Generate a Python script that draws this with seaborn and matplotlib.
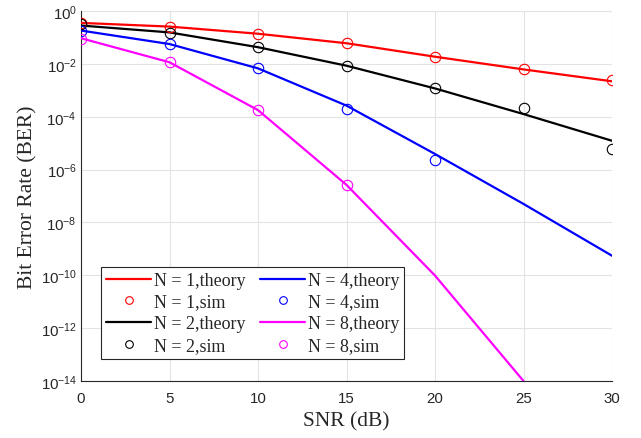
import numpy as np
import pandas as pd
import matplotlib
matplotlib.use("Agg")
import matplotlib.pyplot as plt
from matplotlib.ticker import NullLocator, LogFormatterSciNotation
from matplotlib.lines import Line2D
import seaborn as sns

sns.set_style("white")
plt.rcParams["font.family"] = ["Liberation Sans", "DejaVu Sans"]
plt.rcParams["mathtext.fontset"] = "custom"
plt.rcParams["mathtext.rm"] = "Liberation Sans"
plt.rcParams["mathtext.it"] = "Liberation Sans:italic"
plt.rcParams["mathtext.bf"] = "Liberation Sans:bold"

snr = [0, 5, 10, 15, 20, 25, 30]
orders = [1, 2, 4, 8]
colors = {1: "#ff0000", 2: "#000000", 4: "#0000ff", 8: "#ff00ff"}

# log10 BER values
theory_log = {
    1: [-0.45, -0.59, -0.86, -1.22, -1.73, -2.21, -2.66],
    2: [-0.55, -0.81, -1.37, -2.07, -2.93, -3.90, -4.91],
    4: [-0.74, -1.25, -2.17, -3.58, -5.41, -7.30, -9.26],
    8: [-1.03, -1.94, -3.75, -6.58, -10.01, -14.0, np.nan],
}
sim_log = {
    1: [-0.45, -0.59, -0.86, -1.22, -1.73, -2.21, -2.61],
    2: [-0.49, -0.85, -1.37, -2.07, -2.93, -3.66, -5.21],
    4: [-0.74, -1.25, -2.17, -3.71, -5.64, np.nan, np.nan],
    8: [-1.06, -1.94, -3.75, -6.58, np.nan, np.nan, np.nan],
}

fig = plt.figure(figsize=(6.41, 4.39), dpi=100)
ax = fig.add_axes([81 / 641, 1 - 382 / 439, 531 / 641, 370 / 439])
ax.set_yscale("log")

handles = []
labels = []
for n in orders:
    dft = pd.DataFrame({"snr": snr, "ber": np.power(10.0, theory_log[n])}).dropna()
    dfs = pd.DataFrame({"snr": snr, "ber": np.power(10.0, sim_log[n])}).dropna()
    sns.lineplot(data=dft, x="snr", y="ber", ax=ax, color=colors[n], lw=1.6,
                 estimator=None, sort=False, legend=False, zorder=3)
    sns.lineplot(data=dfs, x="snr", y="ber", ax=ax, color=colors[n], ls="",
                 marker="o", ms=7.5, mfc="none", mec=colors[n], mew=0.8,
                 estimator=None, sort=False, legend=False, zorder=4)
    handles.append(Line2D([], [], color=colors[n], lw=1.6))
    labels.append(f"N = {n},theory")
    handles.append(Line2D([], [], color=colors[n], ls="", marker="o", ms=5.5,
                          mfc="none", mec=colors[n], mew=0.8))
    labels.append(f"N = {n},sim")

ax.set_xlim(0, 30)
ax.set_ylim(1e-14, 1)
ax.set_xticks(snr)
ax.set_yticks([10.0 ** k for k in range(-14, 1, 2)])
ax.yaxis.set_minor_locator(NullLocator())
ax.yaxis.set_major_formatter(LogFormatterSciNotation())

ax.grid(True, which="major", color="#e3e3e3", lw=0.8)
ax.set_axisbelow(True)
for s in ["top", "right"]:
    ax.spines[s].set_visible(False)
for s in ["left", "bottom"]:
    ax.spines[s].set_color("#262626")
    ax.spines[s].set_linewidth(0.8)
ax.tick_params(axis="both", direction="in", length=4, width=0.8,
               colors="#262626", labelsize=10.8, labelcolor="#262626")
ax.tick_params(axis="x", pad=7)
ax.tick_params(axis="y", pad=3)

serif = ["Liberation Serif", "DejaVu Serif"]
ax.set_xlabel("SNR (dB)", family=serif, fontsize=15.5, color="#262626", labelpad=5)
ax.set_ylabel("Bit Error Rate (BER)", family=serif, fontsize=15.5, color="#262626", labelpad=2)

leg = ax.legend(handles, labels, ncol=2, loc="lower left",
                bbox_to_anchor=(20 / 531, 22 / 370), borderaxespad=0,
                prop={"family": serif, "size": 13}, frameon=True, fancybox=False,
                edgecolor="#262626", framealpha=1, handlelength=2.5,
                handletextpad=0.15, columnspacing=0.8, labelspacing=0.26,
                borderpad=0.28)
leg.get_frame().set_linewidth(0.8)

fig.savefig("out.png", dpi=100)
